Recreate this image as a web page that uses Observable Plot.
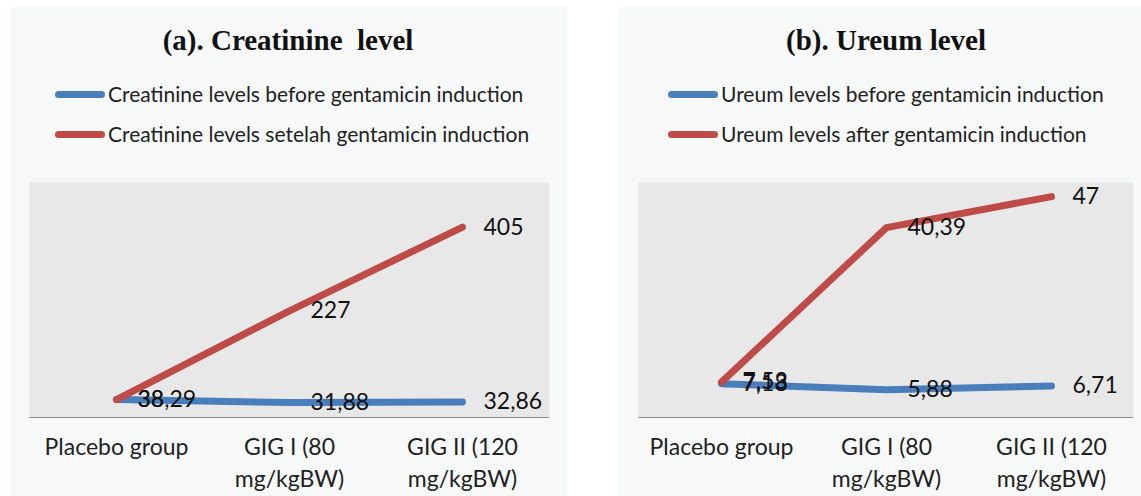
<!DOCTYPE html>
<html><head><meta charset="utf-8">
<script src="https://cdn.jsdelivr.net/npm/d3@7"></script>
<script src="https://cdn.jsdelivr.net/npm/@observablehq/plot@0.6"></script>
<style>
html,body{margin:0;padding:0;background:#fff;}
body{width:1141px;height:496px;overflow:hidden;position:relative;font-family:Lato,"Noto Sans",sans-serif;}
.panel{position:absolute;top:7px;height:489px;background:#f6f9f7;}
.title{position:absolute;top:17px;transform:translateX(-50%);white-space:pre;font-family:"Liberation Serif","Times New Roman",serif;font-weight:bold;font-size:29px;color:#111;line-height:32px;}
.leg{position:absolute;white-space:nowrap;font-size:21px;color:#222;line-height:24px;}
.sw{position:absolute;width:50px;height:7px;border-radius:4px;}
.plot{position:absolute;left:0;}
</style>
</head><body>
<div id="pa" class="panel" style="left:11px;width:556px;"></div>
<div id="pb" class="panel" style="left:618px;width:523px;"></div>
<script>
const categories = ["Placebo group", "GIG I (80\nmg/kgBW)", "GIG II (120\nmg/kgBW)"];

const creatTitle = "(a). Creatinine  level";
const creatSeries = ["Creatinine levels before gentamicin induction", "Creatinine levels setelah gentamicin induction"];
const creatBefore = [38.29, 31.88, 32.86];
const creatAfter = [38, 227, 405];
const creatDomain = [0, 500];

const ureumTitle = "(b). Ureum level";
const ureumSeries = ["Ureum levels before gentamicin induction", "Ureum levels after gentamicin induction"];
const ureumBefore = [7.18, 5.88, 6.71];
const ureumAfter = [7.53, 40.39, 47];
const ureumDomain = [0, 50];

const seriesColors = ["#4a7ebb", "#be4b48"];

const fmt = v => String(v).replace(".", ",");

function buildPanel(el, cfg) {
  const t = document.createElement("div");
  t.className = "title";
  t.style.left = cfg.titleX + "px";
  t.textContent = cfg.title;
  el.appendChild(t);
  cfg.series.forEach((name, i) => {
    const sw = document.createElement("div");
    sw.className = "sw";
    sw.style.left = cfg.legX + "px";
    sw.style.top = (84 + i * 40) + "px";
    sw.style.background = seriesColors[i];
    el.appendChild(sw);
    const lg = document.createElement("div");
    lg.className = "leg";
    lg.style.left = (cfg.legX + 53) + "px";
    lg.style.top = (75 + i * 40) + "px";
    lg.textContent = name;
    el.appendChild(lg);
  });
  const rows = [];
  [cfg.before, cfg.after].forEach((vals, si) => {
    vals.forEach((v, ci) => rows.push({cat: categories[ci], value: v, series: cfg.series[si], label: fmt(v), si}));
  });
  const chart = Plot.plot({
    width: cfg.width,
    height: 326,
    marginTop: 12,
    marginBottom: 79,
    marginLeft: cfg.ml,
    marginRight: cfg.mr,
    style: {fontFamily: "Lato, 'Noto Sans', sans-serif", background: "transparent", overflow: "visible"},
    x: {type: "point", domain: categories, padding: 0.5},
    y: {domain: cfg.domain, axis: null},
    marks: [
      Plot.frame({fill: "#e8e8e8", stroke: null}),
      Plot.ruleY([cfg.domain[0]], {stroke: "#8c8c8c", strokeWidth: 1.2}),
      Plot.line(rows.filter(d => d.si === 0), {x: "cat", y: "value", stroke: seriesColors[0], strokeWidth: 7, strokeLinecap: "round", strokeLinejoin: "round"}),
      Plot.line(rows.filter(d => d.si === 1), {x: "cat", y: "value", stroke: seriesColors[1], strokeWidth: 7, strokeLinecap: "round", strokeLinejoin: "round"}),
      Plot.text(rows, {x: "cat", y: "value", text: "label", textAnchor: "start", dx: 21, fontSize: 23, fill: "#111"}),
      Plot.axisX({tickSize: 0, tickPadding: 15, fontSize: 23, lineHeight: 1.38, fill: "#222", label: null})
    ]
  });
  chart.classList.add("plot");
  chart.style.top = "163px";
  chart.style.position = "absolute";
  el.appendChild(chart);
}

buildPanel(document.getElementById("pa"), {
  title: creatTitle, titleX: 277, legX: 44, series: creatSeries,
  before: creatBefore, after: creatAfter, domain: creatDomain,
  width: 556, ml: 18, mr: 18
});
buildPanel(document.getElementById("pb"), {
  title: ureumTitle, titleX: 268, legX: 50, series: ureumSeries,
  before: ureumBefore, after: ureumAfter, domain: ureumDomain,
  width: 523, ml: 20, mr: 8
});
</script>
</body></html>
